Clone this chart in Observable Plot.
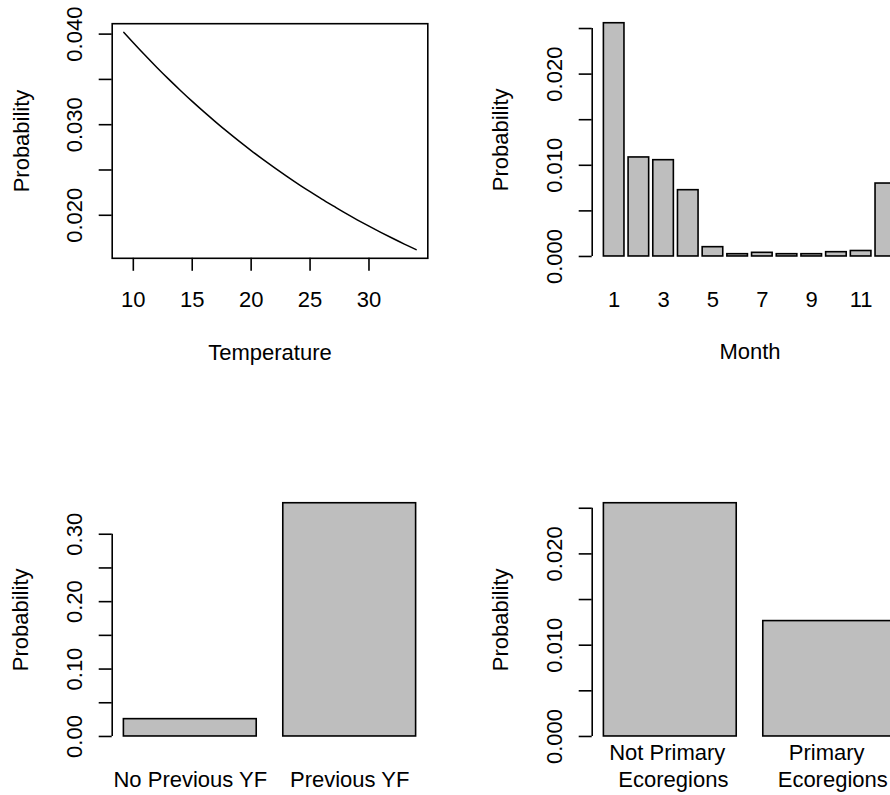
<!DOCTYPE html>
<html>
<head>
<meta charset="utf-8">
<script src="https://cdn.jsdelivr.net/npm/d3@7"></script>
<script src="https://cdn.jsdelivr.net/npm/@observablehq/plot@0.6"></script>
<style>
  html, body { margin: 0; padding: 0; background: #fff; }
  #fig { position: relative; width: 890px; height: 795px; overflow: hidden; background: #fff; }
  .panel { position: absolute; width: 480px; height: 480px; }
  .panel svg text { white-space: pre; }
</style>
</head>
<body>
<div id="fig"></div>
<script>
// ---------------- DATA ----------------
// Panel 1: probability vs temperature (curve)
const temperature = [9.2, 10, 11, 12, 13, 14, 15, 16, 17, 18, 19, 20, 21, 22, 23, 24, 25, 26, 27, 28, 29, 30, 31, 32, 33, 34];
const tempProbability = [0.04019, 0.03905, 0.03766, 0.03632, 0.03503, 0.03378, 0.03257, 0.03141, 0.03029, 0.02920,
  0.02815, 0.02714, 0.02617, 0.02523, 0.02432, 0.02344, 0.02260, 0.02178, 0.02100, 0.02023,
  0.01950, 0.01880, 0.01812, 0.01746, 0.01682, 0.01621];
const tempXTicks = [10, 15, 20, 25, 30];
const tempYTicks = [0.020, 0.025, 0.030, 0.035, 0.040];
const tempYTickLabels = [0.020, 0.030, 0.040];

// Panel 2: probability by month
const months = [1, 2, 3, 4, 5, 6, 7, 8, 9, 10, 11, 12];
const monthProbability = [0.02558, 0.01086, 0.01056, 0.00727, 0.00102, 0.00025, 0.00040, 0.00025, 0.00025, 0.00047, 0.00060, 0.00800];
const monthTickLabels = [1, 3, 5, 7, 9, 11];
const monthYTicks = [0, 0.005, 0.010, 0.015, 0.020, 0.025];
const monthYTickLabels = [0, 0.010, 0.020];

// Panel 3: previous yellow fever
const previousYF = ["No Previous YF", "Previous YF"];
const previousYFProbability = [0.0257, 0.346];
const previousYTicks = [0, 0.05, 0.10, 0.15, 0.20, 0.25, 0.30];
const previousYTickLabels = [0, 0.10, 0.20, 0.30];

// Panel 4: ecoregions
const ecoregions = ["Not Primary \n Ecoregions", "Primary \n Ecoregions"];
const ecoregionProbability = [0.02555, 0.01264];
const ecoYTicks = [0, 0.005, 0.010, 0.015, 0.020, 0.025];
const ecoYTickLabels = [0, 0.010, 0.020];

const yAxisTitle = "Probability";

// ---------------- LAYOUT ----------------
const FONT = "'Liberation Sans', Arial, Helvetica, sans-serif";
const FS = "22px";
const LW = 1.6;
const BAR_FILL = "#bebebe";
const W = 480, H = 480;
const ML = 111.7, MR = 52.7;

const fig = document.getElementById("fig");
function place(svg, left, top) {
  const d = document.createElement("div");
  d.className = "panel";
  d.style.left = left + "px";
  d.style.top = top + "px";
  d.appendChild(svg);
  fig.appendChild(d);
}
const style = {fontFamily: FONT, fontSize: FS, background: "transparent", color: "black", overflow: "visible"};
const ext = ([a, b]) => { const e = 0.04 * (b - a); return [a - e, b + e]; };

function yDecor(ticks, labels, fmt, titleDx) {
  return [
    Plot.axisY({ticks, tickSize: 13, tickFormat: () => "", label: null, stroke: "black", strokeWidth: LW}),
    Plot.text(labels, {y: d => d, text: fmt, frameAnchor: "left", rotate: -90, textAnchor: "middle",
      lineAnchor: "bottom", dx: -30, fill: "black"}),
    Plot.text([yAxisTitle], {frameAnchor: "left", rotate: -90, textAnchor: "middle", lineAnchor: "bottom",
      dx: titleDx, fill: "black"})
  ];
}

// ---------- Panel 1: line ----------
{
  const rows = temperature.map((t, i) => ({t, p: tempProbability[i]}));
  const MT = 23.2, MB = 222.2;
  const svg = Plot.plot({
    width: W, height: H, marginLeft: ML, marginRight: MR, marginTop: MT, marginBottom: MB,
    style,
    x: {domain: ext(d3.extent(temperature))},
    y: {domain: ext(d3.extent(tempProbability))},
    marks: [
      Plot.line(rows, {x: "t", y: "p", stroke: "black", strokeWidth: 1.5, curve: "natural"}),
      Plot.frame({stroke: "black", strokeWidth: LW}),
      Plot.axisX({ticks: tempXTicks, tickSize: 13, tickFormat: () => "", label: null, stroke: "black", strokeWidth: LW}),
      Plot.text(tempXTicks, {x: d => d, text: d => String(d), frameAnchor: "bottom", lineAnchor: "bottom", dy: 48.4, fill: "black"}),
      Plot.text(["Temperature"], {frameAnchor: "bottom", lineAnchor: "bottom", dy: 101.5, fill: "black"}),
      ...yDecor(tempYTicks, tempYTickLabels, d => d3.format(".3f")(d), -83.4)
    ]
  });
  place(svg, 0, 0);
}

// ---------- Bar panels ----------
function barPanel({cats, values, labelCats, yTicks, yLabels, fmt, title, titleDy}) {
  const n = values.length;
  const rows = values.map((v, i) => ({cat: cats[i], v, x1: 0.2 + i * 1.2, x2: 1.2 + i * 1.2}));
  const xDomain = ext([0.2, n * 1.2]);
  const ymax = d3.max(values);
  const MT = 13.4, MB = 214.7;
  const marks = [
    Plot.rectY(rows, {x1: "x1", x2: "x2", y1: 0, y2: "v", fill: BAR_FILL, stroke: "black", strokeWidth: LW}),
    Plot.ruleX([xDomain[0]], {y1: yTicks[0], y2: yTicks[yTicks.length - 1], stroke: "black", strokeWidth: LW}),
    ...yDecor(yTicks, yLabels, fmt, -84),
    Plot.text(rows.filter(r => labelCats.includes(r.cat)), {
      x: r => (r.x1 + r.x2) / 2, text: r => String(r.cat), frameAnchor: "bottom",
      lineAnchor: "bottom", lineHeight: 1.2, dy: 40.7, fill: "black"})
  ];
  if (title) marks.push(Plot.text([title], {frameAnchor: "bottom", lineAnchor: "bottom", dy: titleDy, fill: "black"}));
  return Plot.plot({
    width: W, height: H, marginLeft: ML, marginRight: MR, marginTop: MT, marginBottom: MB,
    style,
    x: {domain: xDomain, axis: null},
    y: {domain: [-0.04 * ymax, 1.04 * ymax]},
    marks
  });
}

place(barPanel({cats: months, values: monthProbability, labelCats: monthTickLabels,
  yTicks: monthYTicks, yLabels: monthYTickLabels, fmt: d => d3.format(".3f")(d), title: "Month", titleDy: 93}), 480, 0);

place(barPanel({cats: previousYF, values: previousYFProbability, labelCats: previousYF,
  yTicks: previousYTicks, yLabels: previousYTickLabels, fmt: d => d3.format(".2f")(d)}), 0, 480);

place(barPanel({cats: ecoregions, values: ecoregionProbability, labelCats: ecoregions,
  yTicks: ecoYTicks, yLabels: ecoYTickLabels, fmt: d => d3.format(".3f")(d)}), 480, 480);
</script>
</body>
</html>
